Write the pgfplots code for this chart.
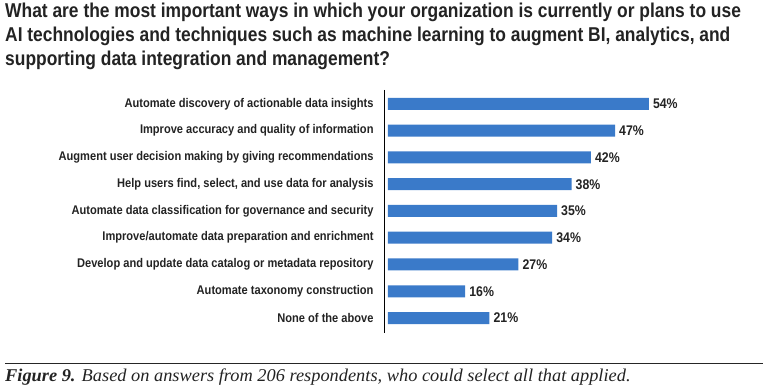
\documentclass[border=0pt]{standalone}
\usepackage{fontspec}
\setmainfont{Liberation Sans}
\newfontfamily\titlefont[FakeStretch=0.87]{Liberation Sans}
\newfontfamily\labfont[FakeStretch=0.88]{Liberation Sans}
\newfontfamily\capfont[FakeStretch=1.02]{Liberation Serif}
\usepackage{pgfplots}
\pgfplotsset{compat=1.18}
\definecolor{barblue}{RGB}{58,122,201}
\definecolor{txt}{RGB}{35,35,35}
\begin{document}
\begin{tikzpicture}
\useasboundingbox (0pt,0pt) rectangle (763pt,-387pt);
\node[anchor=north west, inner sep=0pt, align=left, text=txt,
  font=\titlefont\bfseries\fontsize{20}{24}\selectfont] at (5pt,-3pt)
  {What are the most important ways in which your organization is currently or plans to use\\
   AI technologies and techniques such as machine learning to augment BI, analytics, and\\
   supporting data integration and management?};
\begin{axis}[
  at={(384pt,-333pt)}, anchor=south west,
  scale only axis, width=376pt, height=243pt,
  xmin=-0.8, xmax=77, ymin=-0.52, ymax=8.56, y dir=reverse,
  axis x line=none, axis y line*=left,
  axis line style={black, line width=0.8pt},
  ytick={0,...,8}, ytick style={draw=none},
  yticklabels={Automate discovery of actionable data insights,
    Improve accuracy and quality of information,
    Augment user decision making by giving recommendations,
    {Help users find, select, and use data for analysis},
    Automate data classification for governance and security,
    Improve/automate data preparation and enrichment,
    Develop and update data catalog or metadata repository,
    Automate taxonomy construction,
    None of the above},
  yticklabel style={font=\labfont\bfseries\fontsize{12.6}{14}\selectfont, text=txt, inner xsep=6pt},
  xbar, bar width=12pt, bar shift=0pt,
  point meta=x,
  /pgf/number format/assume math mode=true,
  nodes near coords={\pgfmathprintnumber{\pgfplotspointmeta}\%},
  nodes near coords style={font=\labfont\bfseries\fontsize{14}{16}\selectfont, text=txt, anchor=west, inner xsep=4pt},
  clip=false,
]
\addplot[fill=barblue, draw=none] coordinates {
  (54,0) (47,1) (42,2) (38,3) (35,4) (34,5) (27,6) (16,7) (21,8)};
\end{axis}
\draw[line width=1pt, black!85] (5pt,-363pt) -- (763pt,-363pt);
\node[anchor=base west, inner sep=0pt, text=txt,
  font=\capfont\itshape\fontsize{18}{20}\selectfont] at (5pt,-381pt)
  {\textbf{Figure 9.} Based on answers from 206 respondents, who could select all that applied.};
\end{tikzpicture}
\end{document}
